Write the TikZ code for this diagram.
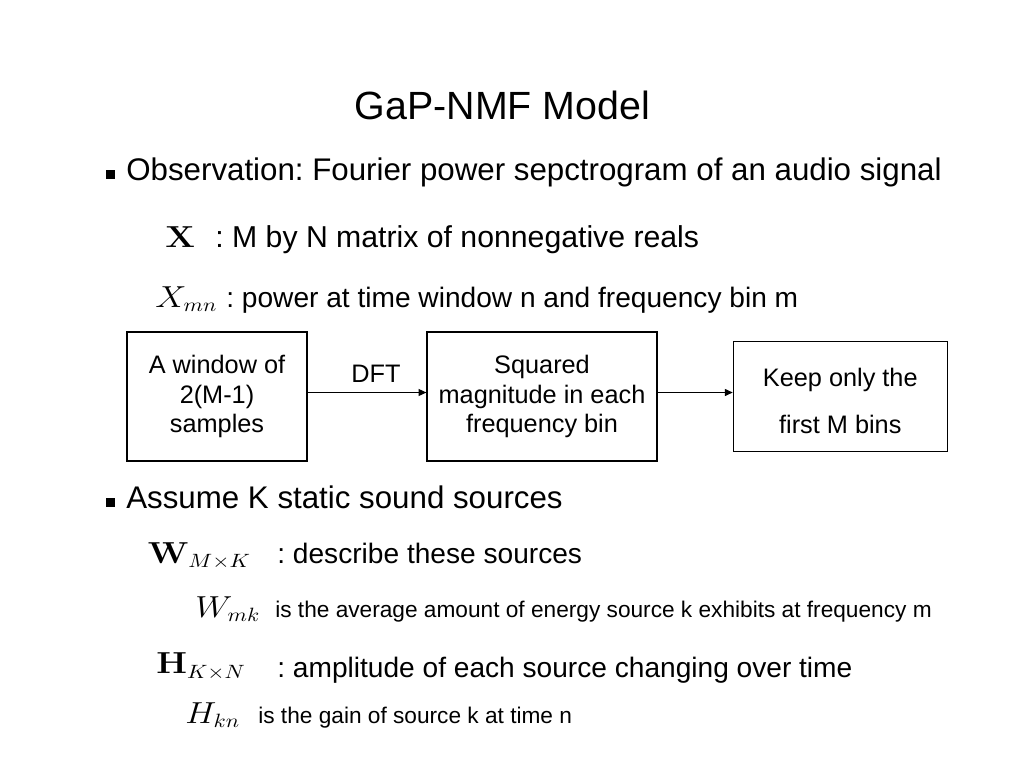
\documentclass[tikz,border=0pt]{standalone}
\usepackage[no-math]{fontspec}
\setmainfont{Liberation Sans}
\usepackage{graphicx}
\usetikzlibrary{arrows.meta}
\newcommand{\wmath}[1]{\scalebox{1.15}[1]{$#1$}}
\frenchspacing

\tikzset{
  heading/.style={anchor=base,inner sep=0pt,font=\fontsize{22.4}{27}\selectfont},
  bulletsq/.style={fill=black,inner sep=0pt,minimum size=0.18cm},
  lvlone/.style={anchor=base west,inner sep=0pt,font=\fontsize{17.8}{21}\selectfont},
  lvltwo/.style={anchor=base west,inner sep=0pt,font=\fontsize{16}{19}\selectfont},
  note/.style={anchor=base west,inner sep=0pt,font=\fontsize{12.9}{15}\selectfont},
  sym/.style={anchor=base west,inner sep=0pt,font=\fontsize{16}{19}\selectfont},
  stage/.style={draw,rectangle,align=center,line width=0.7pt,font=\fontsize{14.4}{17}\selectfont},
  flow/.style={-{Triangle[length=4.5pt,width=4pt]},line width=0.7pt}
}

\begin{document}
\begin{tikzpicture}[x=0.02cm,y=-0.02cm]
\useasboundingbox (0,0) rectangle (1024,768);

\node [heading] (title) at(502.5,119.5){GaP-NMF Model};

% observation
\node [bulletsq] (b1) at(110.5,174){};
\node [lvlone] (obs) at(126,180){Observation: Fourier power sepctrogram of an audio signal};

\node [sym] (X) at(165,247){\wmath{\mathbf{X}}};
\node [lvltwo,font=\fontsize{17.2}{20}\selectfont] (xdef) at(215,247){: M by N matrix of nonnegative reals};
\node [sym] (xmn) at(155,307){\wmath{X_{mn}}};
\node [lvltwo] (xmndef) at(226,307){: power at time window n and frequency bin m};

% processing chain
\node [stage,minimum width=3.6cm,minimum height=2.58cm] (win) at(217,396.5){A window of\\2(M-1)\\samples};
\node [stage,minimum width=4.6cm,minimum height=2.58cm] (sq) at(542,396.5){Squared\\magnitude in each\\frequency bin};
\node [stage,minimum width=4.28cm,minimum height=2.2cm,font=\fontsize{14.4}{26.5}\selectfont] (keep) at(840.3,396.7){\rule{0pt}{15pt}Keep only the\\first M bins};
\coordinate (lvl) at(0,392.5);
\node [anchor=base,inner sep=0pt,font=\fontsize{14.4}{17}\selectfont] (dft) at(376,382){DFT};

\draw[flow](win.east |- lvl) -- (sq.west |- lvl);
\draw[flow](sq.east |- lvl) -- (keep.west |- lvl);

% sources
\node [bulletsq] (b2) at(110.5,502.5){};
\node [lvlone] (assume) at(126,508.3){Assume K static sound sources};

\node [sym] (W) at(147.5,563){\wmath{\mathbf{W}_{M\times K}}};
\node [lvltwo] (wdef) at(277,563){: describe these sources};
\node [sym] (wmk) at(195,617){\wmath{W_{mk}}};
\node [note] (wmkdef) at(275,617){is the average amount of energy source k exhibits at frequency m};

\node [sym] (H) at(156,673.5){\wmath{\mathbf{H}_{K\times N}}};
\node [lvltwo] (hdef) at(277,677){: amplitude of each source changing over time};
\node [sym] (hkn) at(185,723.3){\wmath{H_{kn}}};
\node [note] (hkndef) at(258,723.3){is the gain of source k at time n};
\end{tikzpicture}
\end{document}
